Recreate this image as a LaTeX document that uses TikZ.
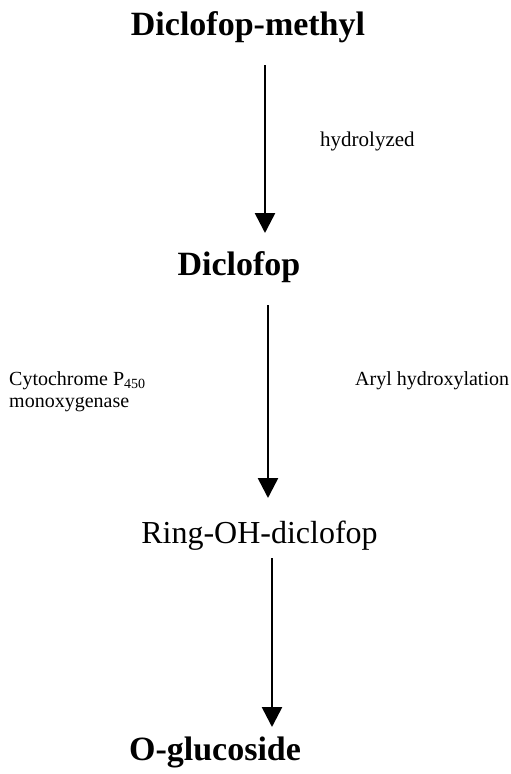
\documentclass[tikz,border=0pt]{standalone}
\usepackage{fontspec}
\setmainfont{Liberation Serif}
\usetikzlibrary{arrows.meta}
\tikzset{
  compound/.style={inner sep=0pt, anchor=base, font=\bfseries\fontsize{34}{40}\selectfont},
  compoundreg/.style={inner sep=0pt, anchor=base, font=\fontsize{32}{38}\selectfont},
  lbl/.style={inner sep=0pt, anchor=base west, font=\fontsize{20}{22}\selectfont},
  reaction/.style={line width=2.6pt, -{Triangle[width=20pt,length=20pt]}}
}
\begin{document}
\begin{tikzpicture}[x=1pt,y=-1pt]
\useasboundingbox (0,0) rectangle (511,774);
\node[compound] (dm) at (248,35) {Diclofop-methyl};
\node[compound] (d) at (239,275) {Diclofop};
\node[compoundreg] (r) at (259.5,543) {Ring-OH-diclofop};
\node[compound] (g) at (215,760) {O-glucoside};
\node[lbl, font=\fontsize{21}{23}\selectfont] (hy) at (320,146) {hydrolyzed};
\node[lbl] (cy) at (9,385) {Cytochrome P\textsubscript{450}};
\node[lbl] (mo) at (9,407) {monoxygenase};
\node[lbl] (ar) at (355,385) {Aryl hydroxylation};
\coordinate (a1s) at (265,65);
\coordinate (a1e) at (265,233);
\coordinate (a2s) at (268,305);
\coordinate (a2e) at (268,498);
\coordinate (a3s) at (272,558);
\coordinate (a3e) at (272,727);
\draw[reaction] (a1s) -- (a1e);
\draw[reaction] (a2s) -- (a2e);
\draw[reaction] (a3s) -- (a3e);
\end{tikzpicture}
\end{document}
